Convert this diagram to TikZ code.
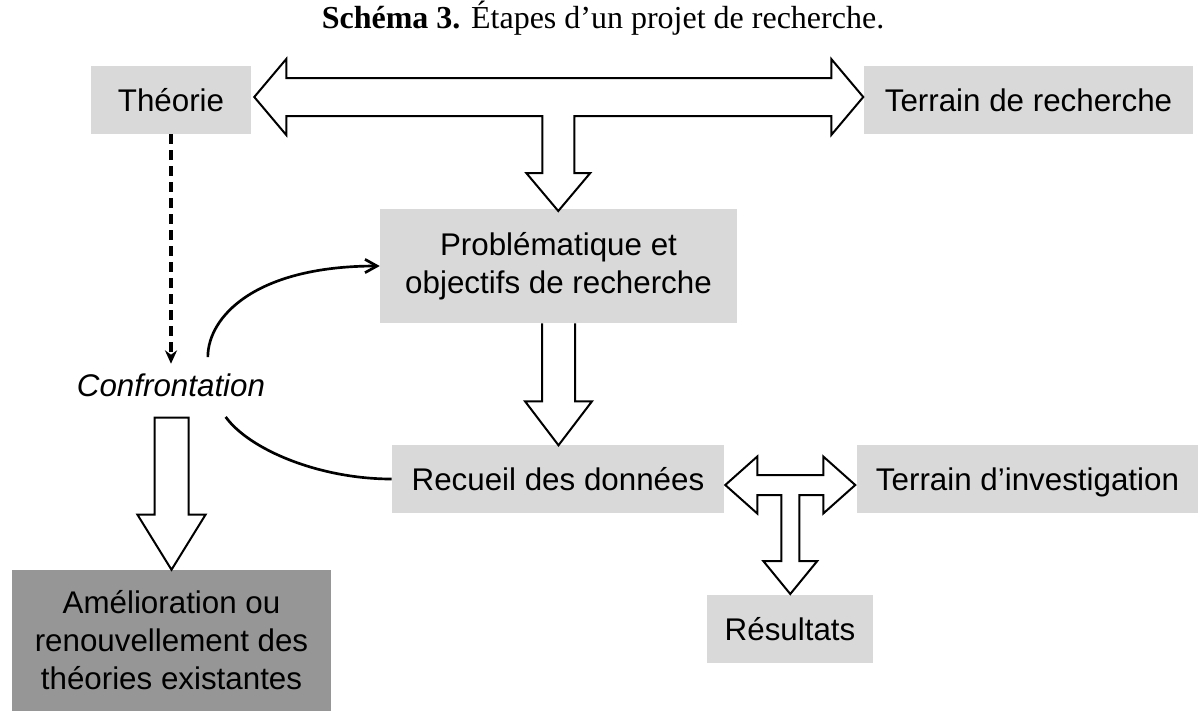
\documentclass[tikz,border=0pt]{standalone}
\usepackage{fontspec}
\setmainfont{Liberation Sans}
\newfontfamily\titlefont{Liberation Serif}
\usetikzlibrary{arrows.meta}
\definecolor{boxgray}{RGB}{217,217,217}
\definecolor{darkbox}{RGB}{150,150,150}

\begin{document}
\begin{tikzpicture}[x=0.75pt,y=0.75pt,yscale=-1,xscale=1,
  box/.style={fill=boxgray, inner sep=0pt, align=center, font=\fontsize{23.5}{28.5}\selectfont},
  oneline/.style={text height=16.8pt, text depth=0pt},
  bigarrow/.style={draw=black, fill=white, line width=1.5pt, line join=miter},
  link/.style={line width=2pt},
  dashlink/.style={line width=2.5pt, dash pattern=on 7.5pt off 4.5pt, -{Stealth[length=10pt,width=9pt]}}]
\useasboundingbox (0,0) rectangle (1198,711);

% Title
\node (titre) at (603,18) {\titlefont\fontsize{24}{28}\selectfont\textbf{Schéma 3.} Étapes d’un projet de recherche.};

% Boxes
\node [box, oneline, minimum width=120pt, minimum height=51pt] (theorie) at (171,100) {Théorie};
\node [box, oneline, minimum width=246.75pt, minimum height=51pt] (terrainrech) at (1028.5,100) {Terrain de recherche};
\node [box, minimum width=267.75pt, minimum height=85.5pt] (probleme) at (558.5,266) {Problématique et\\objectifs de recherche};
\node [oneline, inner sep=0pt, minimum height=31.5pt, font=\fontsize{23.5}{28.5}\selectfont\itshape] (confront) at (171,385) {Confrontation};
\node [box, oneline, minimum width=249pt, minimum height=51pt] (recueil) at (558,479) {Recueil des données};
\node [box, oneline, minimum width=255.75pt, minimum height=51pt] (terraininv) at (1027.5,479) {Terrain d’investigation};
\node [box, oneline, minimum width=124.5pt, minimum height=51pt] (resultats) at (790,629) {Résultats};
\node [box, fill=darkbox, minimum width=239.25pt, minimum height=105.75pt] (amelio) at (171.5,640.5) {Amélioration ou\\renouvellement des\\théories existantes};

% T arrow: Theorie / Terrain de recherche / Problematique
\draw [bigarrow] (theorie.east) ++(3,-3) -- ++(32,-38) -- ++(0,19) -- ++(545,0) -- ++(0,-19)
  -- ++(32,38) -- ++(-32,38) -- ++(0,-19) -- ++(-257,0) -- ++(0,57) -- ++(16,0)
  -- ++(-32,38) -- ++(-32,-38) -- ++(16,0) -- ++(0,-57) -- ++(-256,0) -- ++(0,19) -- cycle;

% Down arrow: Problematique -> Recueil
\draw [bigarrow] (probleme.south) ++(-16.5,0) -- ++(0,78) -- ++(-17,0) -- ++(33.5,44)
  -- ++(33.5,-44) -- ++(-17,0) -- ++(0,-78);

% Down arrow: Confrontation -> Amelioration
\draw [bigarrow] (amelio.north) -- ++(-34,-55) -- ++(17,0) -- ++(0,-97) -- ++(34,0)
  -- ++(0,97) -- ++(17,0) -- cycle;

% T arrow: Recueil / Terrain d'investigation / Resultats
\draw [bigarrow] (recueil.east) ++(1,6) -- ++(32,-28.5) -- ++(0,18.5) -- ++(66,0) -- ++(0,-18.5)
  -- ++(32,28.5) -- ++(-32,28.5) -- ++(0,-18.5) -- ++(-24,0) -- ++(0,66) -- ++(18,0)
  -- ++(-27,33) -- ++(-27,-33) -- ++(18,0) -- ++(0,-66) -- ++(-24,0) -- ++(0,18.5) -- cycle;

% Thin connectors
\draw [dashlink] (theorie) -- (confront);
\draw [link, -{Straight Barb[length=9pt,width=10pt]}] ([yshift=-5pt]confront.30) .. controls +(0,-40) and +(-125,0) .. (probleme.west);
\draw [link] ([xshift=41pt,yshift=8pt]confront.south) .. controls +(24,33) and +(-72,0) .. (recueil.west);

\end{tikzpicture}
\end{document}
